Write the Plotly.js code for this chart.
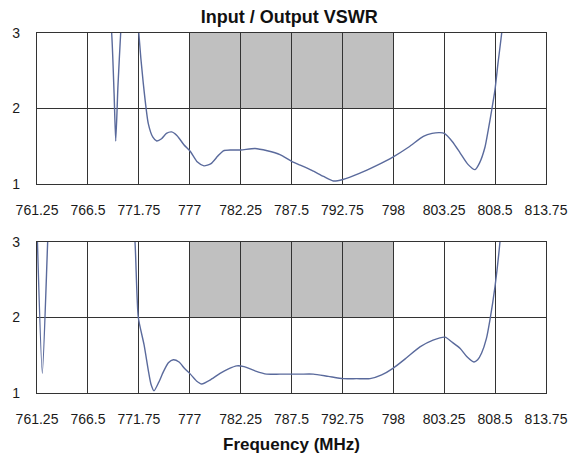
<!DOCTYPE html>
<html>
<head>
<meta charset="utf-8">
<script src="https://cdn.plot.ly/plotly-3.0.1.min.js"></script>
<style>
html,body{margin:0;padding:0;background:#fff;}
#chart{width:582px;height:462px;}
</style>
</head>
<body>
<div id="chart"></div>
<script>
// ---- data ----
var tickFreqs = [761.25, 766.5, 771.75, 777, 782.25, 787.5, 792.75, 798, 803.25, 808.5, 813.75];
var tickLabels = ["761.25", "766.5", "771.75", "777", "782.25", "787.5", "792.75", "798", "803.25", "808.5", "813.75"];
var vswrTicks = [1, 2, 3];
var vswrLabels = ["1", "2", "3"];

// passband highlight (MHz / VSWR limits)
var bandFreq = [777, 798];
var bandVswr = [2, 3];

// Input VSWR (top panel)
var inFreq = [761.25, 763.5, 766.5, 768.2, 768.95, 769.2, 769.37, 769.6, 769.88, 770.3, 770.8, 771.3,
  771.75, 772.2, 772.73, 773.2, 773.6, 774.1, 774.6, 775.14, 775.7, 776.4, 777.07, 777.8, 778.47,
  779.2, 779.9, 780.47, 781.3, 782.26, 783.74, 785.0, 786.31, 787.52, 788.4, 789.6, 790.8, 791.81,
  792.8, 794.5, 796.2, 798.0, 799.6, 801.1, 802.0, 802.8, 803.26, 804.1, 804.9, 805.7, 806.43,
  806.9, 807.46, 807.8, 808.15, 808.49, 808.8, 809.18, 809.6, 810.5];
var inVswr = [9, 8, 6, 4, 3.0, 2.2, 1.57, 2.3, 3.0, 4, 4.5, 4,
  3.0, 2.35, 1.80, 1.62, 1.57, 1.60, 1.67, 1.69, 1.64, 1.52, 1.43, 1.29, 1.24,
  1.27, 1.37, 1.44, 1.45, 1.45, 1.47, 1.44, 1.39, 1.30, 1.25, 1.18, 1.10, 1.04,
  1.06, 1.14, 1.24, 1.36, 1.49, 1.63, 1.67, 1.68, 1.67, 1.56, 1.41, 1.26, 1.19,
  1.28, 1.49, 1.72, 1.98, 2.25, 2.6, 3.0, 3.6, 5];

// Output VSWR (bottom panel)
var outFreq = [761.25, 761.8, 762.35, 762.8, 764, 766.5, 769, 770.5, 771.36, 771.70, 772.29, 772.73,
  773.0, 773.32, 773.8, 774.28, 774.8, 775.31, 775.9, 776.5, 777.07, 777.7, 778.24, 779.2, 780.13,
  781.0, 781.85, 782.6, 783.8, 784.94, 786.31, 788.4, 789.75, 791.3, 792.84, 794.2, 795.6, 796.8,
  798.0, 799.4, 800.75, 802.1, 803.33, 804.1, 804.9, 805.6, 806.32, 806.7, 807.11, 807.6, 807.97,
  808.49, 809.0, 809.6, 810.5];
var outVswr = [3.2, 1.26, 3.0, 4.5, 6, 7, 6, 4.5, 3.0, 2.0, 1.64, 1.30,
  1.12, 1.03, 1.14, 1.28, 1.40, 1.44, 1.41, 1.32, 1.25, 1.16, 1.12, 1.18, 1.26,
  1.32, 1.36, 1.35, 1.29, 1.25, 1.25, 1.25, 1.25, 1.22, 1.19, 1.19, 1.19, 1.24,
  1.33, 1.47, 1.61, 1.70, 1.74, 1.67, 1.59, 1.48, 1.41, 1.44, 1.53, 1.72, 1.97,
  2.41, 3.0, 4, 5.5];

// ---- styling ----
var lineColor = '#5a6a9c';
var gridColor = '#333333';
var tickFont = {family: '"Liberation Sans", Arial, sans-serif', size: 14, color: '#1a1a1a'};

function xAxis(anchor) {
  return {
    anchor: anchor,
    range: [tickFreqs[0], tickFreqs[tickFreqs.length - 1]],
    tickmode: 'array', tickvals: tickFreqs, ticktext: tickLabels,
    showgrid: true, gridcolor: gridColor, gridwidth: 1.3,
    showline: true, linecolor: gridColor, linewidth: 1.3, mirror: true,
    zeroline: false, ticks: '', ticklabelstandoff: 13,
    tickfont: tickFont, fixedrange: true
  };
}
function yAxis(anchor, domain) {
  return {
    anchor: anchor, domain: domain,
    range: [vswrTicks[0], vswrTicks[vswrTicks.length - 1]],
    tickmode: 'array', tickvals: vswrTicks, ticktext: vswrLabels,
    showgrid: true, gridcolor: gridColor, gridwidth: 1.3,
    showline: true, linecolor: gridColor, linewidth: 1.3, mirror: true,
    zeroline: false, ticks: '', ticklabelstandoff: 13,
    tickfont: tickFont, fixedrange: true
  };
}

var traces = [
  {x: inFreq, y: inVswr, xaxis: 'x', yaxis: 'y', mode: 'lines', name: 'Input VSWR',
   line: {color: lineColor, width: 1.4, shape: 'spline', smoothing: 0.6}, hoverinfo: 'x+y'},
  {x: outFreq, y: outVswr, xaxis: 'x2', yaxis: 'y2', mode: 'lines', name: 'Output VSWR',
   line: {color: lineColor, width: 1.4, shape: 'spline', smoothing: 0.6}, hoverinfo: 'x+y'}
];

var bx = xAxis('y2');
bx.title = {text: 'Frequency (MHz)', standoff: 12,
  font: {family: '"Liberation Sans", Arial, sans-serif', size: 17, color: '#111', weight: 700}};

var layout = {
  width: 582, height: 462,
  margin: {l: 37, r: 36, t: 33, b: 69, autoexpand: false},
  paper_bgcolor: '#ffffff', plot_bgcolor: '#ffffff',
  showlegend: false,
  title: {text: 'Input / Output VSWR', x: 0.497, xanchor: 'center', y: 1 - 17 / 462, yanchor: 'middle',
    yref: 'container',
    font: {family: '"Liberation Sans Narrow", "Liberation Sans", Arial, sans-serif', size: 18, color: '#111', weight: 700}},
  xaxis: xAxis('y'),
  yaxis: yAxis('x', [0.5806, 1]),
  xaxis2: bx,
  yaxis2: yAxis('x2', [0, 0.4194]),
  shapes: [
    {type: 'rect', xref: 'x', yref: 'y', x0: bandFreq[0], x1: bandFreq[1], y0: bandVswr[0], y1: bandVswr[1],
     fillcolor: '#c0c0c0', line: {width: 0}, layer: 'below'},
    {type: 'rect', xref: 'x2', yref: 'y2', x0: bandFreq[0], x1: bandFreq[1], y0: bandVswr[0], y1: bandVswr[1],
     fillcolor: '#c0c0c0', line: {width: 0}, layer: 'below'}
  ]
};

Plotly.newPlot('chart', traces, layout, {displayModeBar: false, staticPlot: false});
</script>
</body>
</html>
